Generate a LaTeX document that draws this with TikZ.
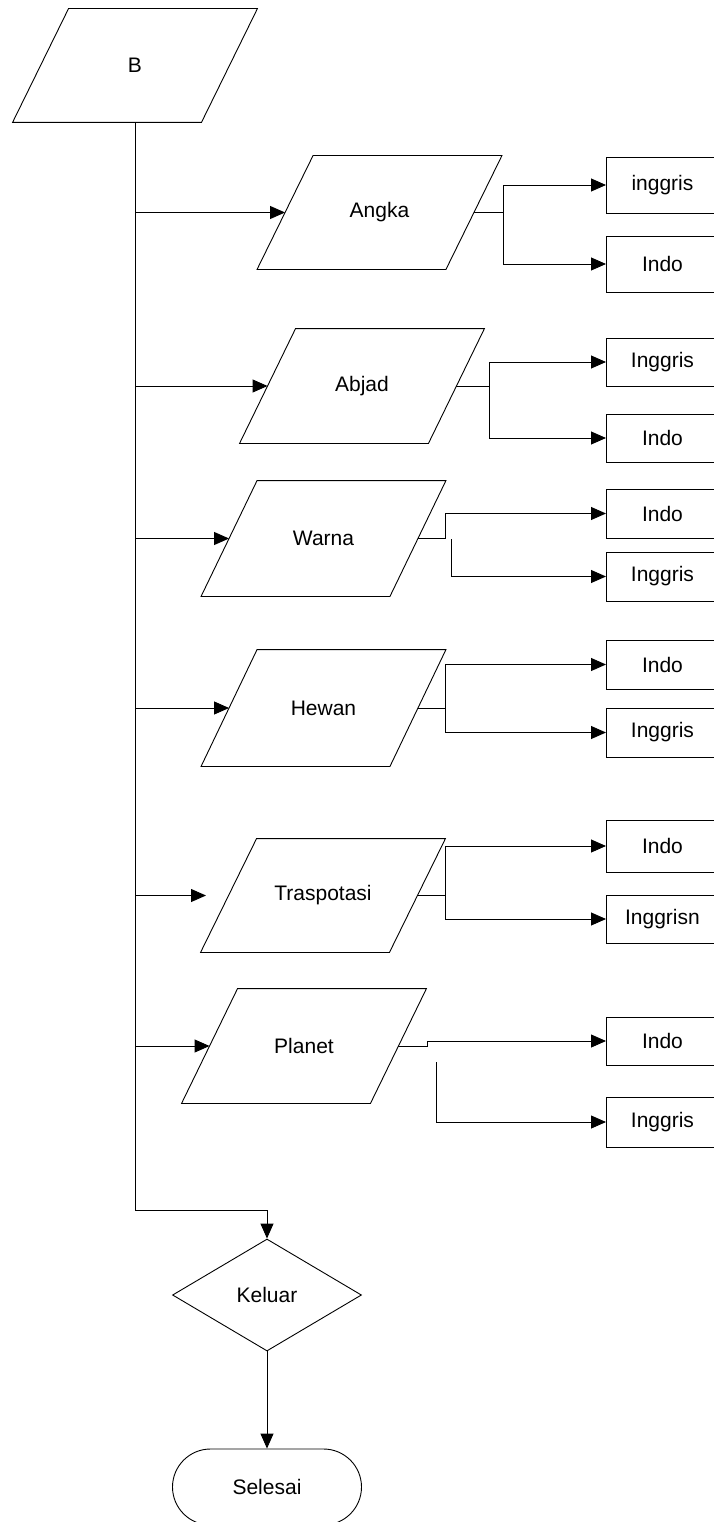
\documentclass[tikz,border=0pt]{standalone}
\usepackage{fontspec}
\setmainfont{Liberation Sans}
\usetikzlibrary{shapes.geometric,shapes.misc,arrows.meta}
\begin{document}
\begin{tikzpicture}[x=1pt,y=-1pt,
  line width=0.9pt,
  every node/.style={font=\fontsize{21}{25}\selectfont, inner sep=0pt},
  io/.style={minimum width=188pt, minimum height=114pt},
  lang/.style={draw, minimum width=112pt, minimum height=50pt, anchor=west},
  flow/.style={-{Triangle[length=15pt,width=13pt]}}
]
\useasboundingbox (0,0) rectangle (713,1522);

% input/output blocks (text nodes; the slanted outline is drawn below)
\node[io, minimum height=113pt] (b) at (135,65.5) {B};
\node[io, minimum height=113pt] (angka) at (379.5,212.5) {Angka};
\node[io] (abjad) at (362,386) {Abjad};
\node[io, minimum height=115pt] (warna) at (323.5,538.5) {Warna};
\node[io, minimum height=116pt] (hewan) at (323.5,708) {Hewan};
\node[io, minimum height=113pt] (trans) at (323,895.5) {Traspotasi};
\node[io] (planet) at (304,1046) {Planet};

\foreach \n in {b,angka,abjad,warna,hewan,trans,planet}
  \draw ([xshift=28pt]\n.north west) -- ([xshift=28pt]\n.north east)
     -- ([xshift=-28pt]\n.south east) -- ([xshift=-28pt]\n.south west) -- cycle;

% language boxes
\node[lang, minimum height=56pt] (a1) at (606,185) {inggris};
\node[lang, minimum height=56pt] (a2) at (606,264) {Indo};
\node[lang, minimum height=48pt] (j1) at (606,362) {Inggris};
\node[lang, minimum height=48pt] (j2) at (606,438) {Indo};
\node[lang, minimum height=49pt] (w1) at (606,513.5) {Indo};
\node[lang, minimum height=49pt] (w2) at (606,576.5) {Inggris};
\node[lang, minimum height=49pt] (h1) at (606,664.5) {Indo};
\node[lang, minimum height=49pt] (h2) at (606,732.5) {Inggris};
\node[lang, minimum height=52pt] (t1) at (606,846) {Indo};
\node[lang, minimum height=48pt] (t2) at (606,919) {Inggrisn};
\node[lang, minimum height=48pt] (p1) at (606,1041) {Indo};
\node[lang, minimum height=50pt] (p2) at (606,1122) {Inggris};

% exit decision and terminator
\node[diamond, draw, minimum width=189pt, minimum height=112pt] (keluar) at (267,1295) {Keluar};
\node[rounded rectangle, draw, minimum width=189pt, minimum height=76pt] (selesai) at (267,1487) {Selesai};

% main spine
\coordinate (turn) at (135,1210);
\draw[flow] (b.south) -- (turn) -| (keluar.north);
\draw[flow] (keluar.south) -- (selesai.north);

% spine to each menu item
\draw[flow] (b.south |- angka.west) -- (angka.west);
\draw[flow] (b.south |- abjad.west) -- (abjad.west);
\draw[flow] (b.south |- warna.west) -- (warna.west);
\draw[flow] (b.south |- hewan.west) -- (hewan.west);
\coordinate (transin) at (206,895.5);
\draw[flow] (b.south |- trans.west) -- (transin);
\draw[flow] (b.south |- planet.west) -- (planet.west);

% branches to the language boxes
\draw[flow] (angka.east) -- ++(29,0) |- (a1.west);
\draw[flow] (angka.east) -- ++(29,0) |- (a2.west);
\draw[flow] (abjad.east) -- ++(33,0) |- (j1.west);
\draw[flow] (abjad.east) -- ++(33,0) |- (j2.west);
\draw[flow] (warna.east) -- ++(27.5,0) |- (w1.west);
\coordinate (wsplit) at (451,539);
\draw[flow] (wsplit) |- (w2.west);
\draw[flow] (hewan.east) -- ++(27.5,0) |- (h1.west);
\draw[flow] (hewan.east) -- ++(27.5,0) |- (h2.west);
\draw[flow] (trans.east) -- ++(28,0) |- (t1.west);
\draw[flow] (trans.east) -- ++(28,0) |- (t2.west);
\draw[flow] (planet.east) -- ++(29,0) |- (p1.west);
\coordinate (psplit) at (436,1062);
\draw[flow] (psplit) |- (p2.west);
\end{tikzpicture}
\end{document}
